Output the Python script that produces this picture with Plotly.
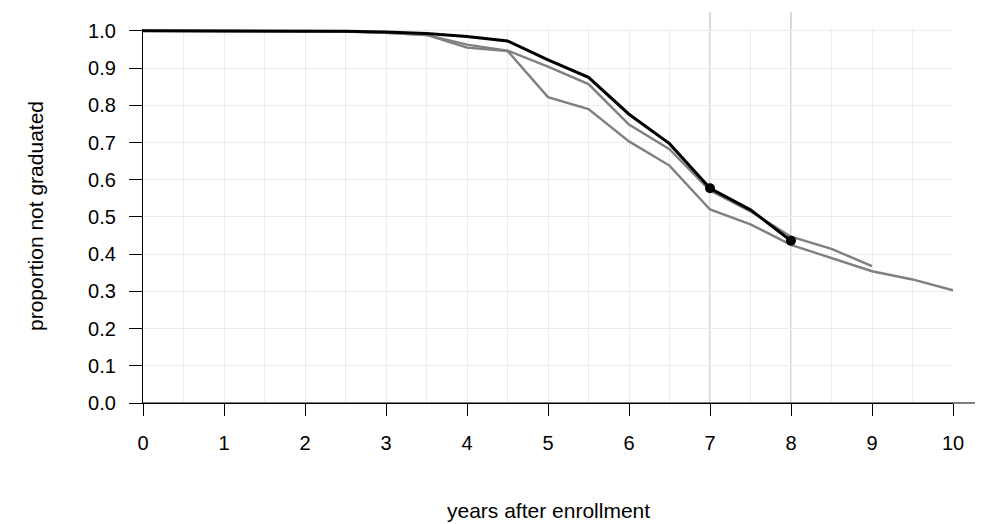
import plotly.graph_objects as go

years = [0, 0.5, 1, 1.5, 2, 2.5, 3, 3.5, 4, 4.5, 5, 5.5, 6, 6.5, 7, 7.5, 8, 8.5, 9, 9.5, 10]

black_vals = [1.0, 1.0, 1.0, 1.0, 1.0, 0.999, 0.997, 0.993, 0.985, 0.973, 0.922, 0.875,
              0.776, 0.697, 0.577, 0.519, 0.436]
gray_a_vals = [1.0, 1.0, 1.0, 1.0, 1.0, 0.998, 0.995, 0.989, 0.955, 0.946, 0.822, 0.790,
               0.703, 0.638, 0.520, 0.480, 0.425, 0.390, 0.354, 0.332, 0.303]
gray_b_vals = [1.0, 1.0, 1.0, 1.0, 1.0, 0.998, 0.995, 0.989, 0.963, 0.947, 0.904, 0.857,
               0.748, 0.682, 0.571, 0.515, 0.447, 0.414, 0.368]

highlight_years = [7, 8]
highlight_vals = [black_vals[years.index(y)] for y in highlight_years]

x_ticks = list(range(0, 11))
y_ticks = [round(i * 0.1, 1) for i in range(11)]

GRAY = "#808080"
FONT = "Liberation Sans, Arial, sans-serif"
FS = 20
TFS = 21

fig = go.Figure()
fig.add_trace(go.Scatter(x=years[:len(gray_a_vals)], y=gray_a_vals, mode="lines",
                         line=dict(color=GRAY, width=2.4), showlegend=False, hoverinfo="skip"))
fig.add_trace(go.Scatter(x=years[:len(gray_b_vals)], y=gray_b_vals, mode="lines",
                         line=dict(color=GRAY, width=2.4), showlegend=False, hoverinfo="skip"))
fig.add_trace(go.Scatter(x=years[:len(black_vals)], y=black_vals, mode="lines",
                         line=dict(color="black", width=3), showlegend=False, hoverinfo="skip"))
fig.add_trace(go.Scatter(x=highlight_years, y=highlight_vals, mode="markers",
                         marker=dict(color="black", size=10), showlegend=False, hoverinfo="skip"))

# reference vertical lines at highlighted years
for yr in highlight_years:
    fig.add_shape(type="line", xref="x", yref="paper", x0=yr, x1=yr, y0=0, y1=1.045,
                  line=dict(color="#bebebe", width=1.2), layer="below")

# extended x axis line to the right
fig.add_shape(type="line", xref="paper", yref="paper", x0=0, x1=1.05, y0=0, y1=0,
              line=dict(color="black", width=1.2), layer="above")

fig.update_layout(
    width=975, height=516,
    margin=dict(l=135, r=30, t=13, b=121),
    plot_bgcolor="white", paper_bgcolor="white",
    font=dict(family=FONT, size=FS, color="black"),
    xaxis=dict(range=[0, 10], tickvals=x_ticks, ticks="outside", ticklen=12,
               tickcolor="black", tickwidth=1, showline=True, linecolor="black", linewidth=1.2,
               showgrid=True, gridcolor="#ebebeb", gridwidth=1, zeroline=False,
               minor=dict(dtick=0.5, showgrid=True, gridcolor="#ebebeb", gridwidth=1, ticks=""),
               ticklabelstandoff=10, tickfont=dict(size=FS)),
    yaxis=dict(range=[0, 1.005], tickvals=y_ticks, tickformat=".1f", ticks="outside",
               ticklen=13, tickcolor="black", tickwidth=1, showline=True, linecolor="black",
               linewidth=1.2, showgrid=True, gridcolor="#ebebeb", gridwidth=1, zeroline=False,
               ticklabelstandoff=9, tickfont=dict(size=FS)),
    annotations=[
        dict(text="years after enrollment", xref="paper", yref="paper", x=0.5, y=0,
             yshift=-107, showarrow=False, font=dict(size=TFS), yanchor="middle"),
        dict(text="proportion not graduated", xref="paper", yref="paper", x=0, y=0.5,
             xshift=-108, showarrow=False, font=dict(size=TFS), textangle=-90,
             xanchor="center", yanchor="middle"),
    ],
)

fig.write_html("out.html")
